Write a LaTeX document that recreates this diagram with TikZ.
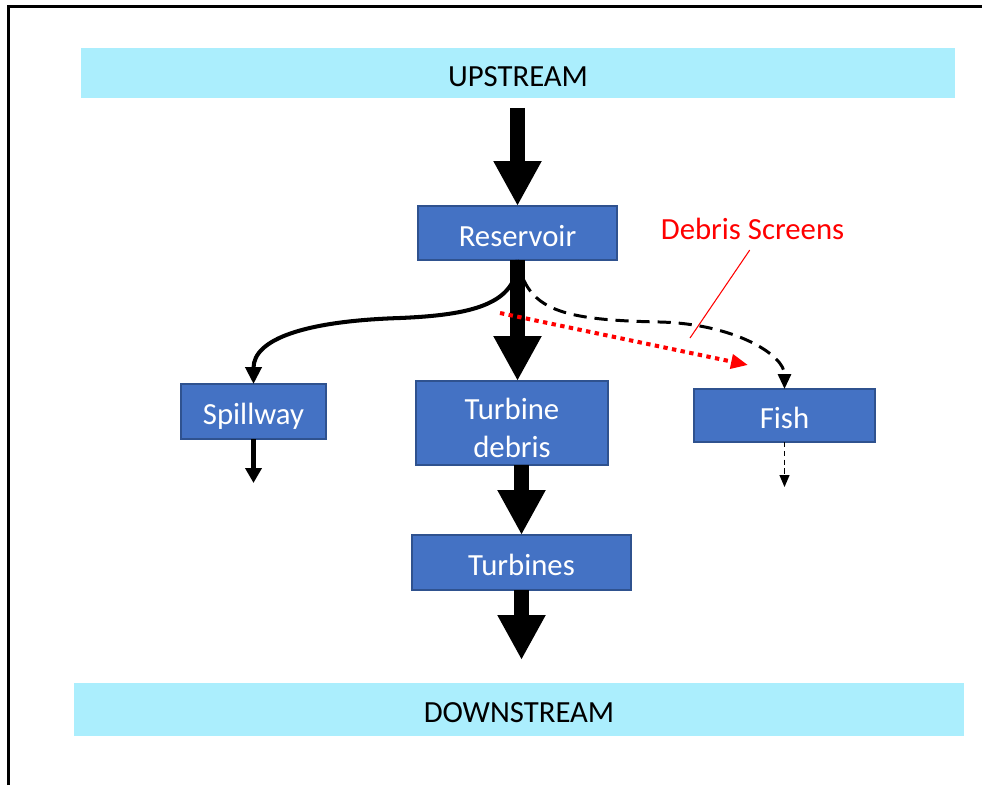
\documentclass[tikz,border=0pt]{standalone}
\usepackage{fontspec}
\setmainfont{Carlito}
\usetikzlibrary{arrows.meta, calc}
\definecolor{boxblue}{HTML}{4472C4}
\definecolor{boxedge}{HTML}{2F528F}
\definecolor{barcyan}{HTML}{ABEEFD}
\definecolor{screenred}{HTML}{FF0000}

\begin{document}
\begin{tikzpicture}[x=0.02cm, y=-0.02cm,
    lowtext/.style={text height=14.9pt, text depth=0pt},
    bar/.style={fill=barcyan, inner sep=0pt, outer sep=0pt, lowtext, font=\fontsize{17.5}{21}\selectfont},
    procbox/.style={fill=boxblue, draw=boxedge, line width=0.85pt, inner sep=0pt, outer sep=0pt,
      text=white, align=center, font=\fontsize{17.5}{21.5}\selectfont},
    bigflow/.style={line width=8.5pt, -{Triangle[length=0.9cm, width=0.9cm]}},
    sideflow/.style={line width=2.3pt, -{Triangle[length=0.34cm, width=0.32cm]}},
    fishflow/.style={line width=1.7pt, dash pattern=on 7.5pt off 4.5pt, -{Triangle[length=0.3cm, width=0.26cm]}},
    screenflow/.style={screenred, line width=2.3pt, dash pattern=on 2.5pt off 2.5pt, -{Triangle[length=0.34cm, width=0.28cm]}}]
  % picture size in px (982 x 785)
  \useasboundingbox (0,0) rectangle (982,785);

  % frame (left and top edges only)
  \draw[line width=1.7pt] (8.5,785) -- (8.5,6.5) -- (982,6.5);

  % upstream / downstream bars
  \node[bar, minimum width=17.48cm, minimum height=1cm] (up) at (518,73) {UPSTREAM};
  \node[bar, minimum width=17.8cm, minimum height=1.06cm] (down) at (519,709.5) {DOWNSTREAM};

  % boxes
  \node[procbox, lowtext, minimum width=3.98cm, minimum height=1.08cm] (res) at (517.5,233) {Reservoir};
  \node[procbox, lowtext, minimum width=2.9cm, minimum height=1.1cm] (spill) at (253.5,411.5) {Spillway};
  \node[procbox, text height=39.5pt, minimum width=3.84cm, minimum height=1.68cm] (deb) at (512,423) {Turbine\\debris};
  \node[procbox, lowtext, minimum width=4.38cm, minimum height=1.1cm] (tur) at (521.5,562.5) {Turbines};
  \node[procbox, lowtext, minimum width=3.62cm, minimum height=1.06cm] (fish) at (784.5,415.5) {Fish};

  % free ends
  \coordinate (outlet) at ($(tur.south)+(0,70)$);
  \coordinate (spillout) at ($(spill.south)+(0,44)$);
  \coordinate (fishout) at ($(fish.south)+(0,45)$);
  \coordinate (scrA) at (500,313);
  \coordinate (scrB) at (748,365);

  % main flow
  \draw[bigflow, shorten <=0.2cm] (up.south -| res.north) -- (res.north);
  \draw[bigflow] (res.south) -- (res.south |- deb.north);
  \draw[bigflow] (tur.north |- deb.south) -- (tur.north);
  \draw[bigflow] (tur.south) -- (outlet);

  % spillway branch
  \draw[sideflow] (res.south) .. controls +(0,45) and +(70,-3) .. (400,318)
    .. controls +(-95,3) and +(0,-45) .. (spill.north);
  \draw[sideflow, line width=2.6pt, -{Triangle[length=0.3cm, width=0.32cm]}] (spill.south) -- (spillout);

  % fish branch
  \draw[fishflow] (res.south) .. controls +(10,50) and +(-100,-2) .. (660,322)
    .. controls +(75,2) and +(0,-34) .. (fish.north);
  \draw[line width=0.7pt, dash pattern=on 3pt off 2pt, -{Triangle[length=0.24cm, width=0.2cm]}] (fish.south) -- (fishout);

  % debris screens
  \draw[screenflow] (scrA) -- (scrB);
  \node[screenred, font=\fontsize{17.5}{21}\selectfont] (screens) at (752.5,229) {Debris Screens};
  \draw[screenred, line width=0.6pt, shorten <=0.1cm] (screens.south) -- (690,338);
\end{tikzpicture}
\end{document}
